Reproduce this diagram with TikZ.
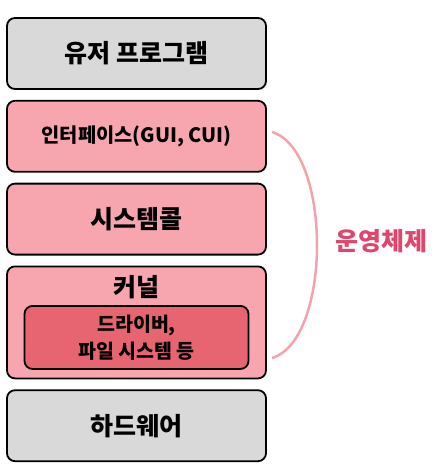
\documentclass[tikz,border=0pt]{standalone}
\usepackage{fontspec}
\setmainfont{Noto Sans CJK KR}[BoldFont={Noto Sans CJK KR Black}]
\usepackage{tikz}
\usepackage{xcolor}
\usetikzlibrary{positioning}

\definecolor{laygray}{HTML}{D9D9D9}
\definecolor{laypink}{HTML}{F7A6AF}
\definecolor{layred}{HTML}{E76570}
\definecolor{ospink}{HTML}{E0456C}
\definecolor{bracepink}{HTML}{F4A3AD}

\tikzset{
  layer/.style={draw=black, line width=1.8pt, rounded corners=8pt,
    minimum width=259pt, minimum height=71pt, font=\bfseries\fontsize{25}{28}\selectfont},
  graylayer/.style={layer, fill=laygray},
  pinklayer/.style={layer, fill=laypink},
  innerlayer/.style={draw=black, line width=1.8pt, rounded corners=8pt, fill=layred,
    minimum width=224pt, minimum height=63pt, align=center,
    font=\bfseries\fontsize{19.5}{27}\selectfont},
  brace/.style={draw=bracepink, line width=2.5pt}
}

\begin{document}
\begin{tikzpicture}[x=1pt, y=-1pt, node distance=10pt]
\useasboundingbox (0,0) rectangle (434,475);

% layers from top to bottom
\node[graylayer] (user) at (136.5,53.5) {유저 프로그램};
\node[pinklayer, below=of user, font=\bfseries\fontsize{19.8}{22}\selectfont] (iface) {인터페이스(GUI, CUI)};
\node[pinklayer, below=of iface] (syscall) {시스템콜};

% kernel with its inner block
\node[pinklayer, below=of syscall, minimum height=112pt] (kernel) {};
\node[below=6pt of kernel.north, font=\bfseries\fontsize{25}{28}\selectfont] (ktitle) {커널};
\node[innerlayer, below=3pt of ktitle] (drv) {드라이버,\\파일 시스템 등};

\node[graylayer, below=of kernel] (hw) {하드웨어};

% operating system brace
\coordinate (bracetop) at (272,132);
\coordinate (bracebot) at (272,358);
\draw[brace] (bracetop) .. controls (332,150) and (332,340) .. (bracebot);
\node[text=ospink, font=\bfseries\fontsize{25}{28}\selectfont] (os) at (381,241) {운영체제};
\end{tikzpicture}
\end{document}
